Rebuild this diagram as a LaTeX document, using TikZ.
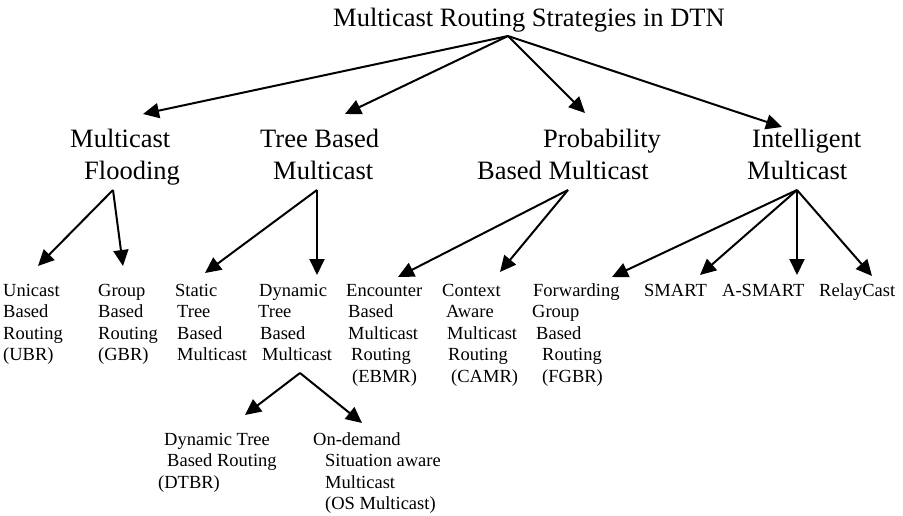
\documentclass[tikz,border=0pt]{standalone}
\usepackage{fontspec}
\setmainfont{Liberation Serif}
\usetikzlibrary{arrows.meta}
\newcommand{\ind}[1]{\hspace*{#1pt}}
\newcommand{\lns}[1]{\begin{tabular}[t]{@{}l@{}}#1\end{tabular}}
\begin{document}
\begin{tikzpicture}[x=1pt,y=-1pt,
  big/.style={anchor=base west,inner sep=0pt,font=\fontsize{26.5}{32}\selectfont},
  small/.style={anchor=base west,inner sep=0pt,font=\fontsize{18.5}{21.5}\selectfont},
  arr/.style={line width=2pt,-{Triangle[length=16pt,width=15pt]}}]
\useasboundingbox (0,0) rectangle (903,516);
% title and level 2
\node[big] (title) at (333,27) {Multicast Routing Strategies in DTN};
\node[big] (flood) at (70,148) {\lns{Multicast\\ \ind{14}Flooding}};
\node[big] (tree) at (260,148) {\lns{Tree Based\\ \ind{13}Multicast}};
\node[big] (prob) at (477,148) {\lns{\ind{66}Probability\\ Based Multicast}};
\node[big] (intel) at (747,148) {\lns{\ind{5}Intelligent\\ Multicast}};
% level 3
\node[small] (ubr) at (3,296) {\lns{Unicast\\ Based\\ Routing\\ (UBR)}};
\node[small] (gbr) at (98,296) {\lns{Group\\ Based\\ Routing\\ (GBR)}};
\node[small] (stbm) at (175,296) {\lns{Static\\ \ind{2}Tree\\ \ind{2}Based\\ \ind{2}Multicast}};
\node[small] (dtbm) at (258,296) {\lns{\ind{1}Dynamic\\ Tree\\ \ind{2}Based\\ \ind{4}Multicast}};
\node[small] (ebmr) at (346,296) {\lns{Encounter\\ \ind{2}Based\\ \ind{2}Multicast\\ \ind{5}Routing\\ \ind{6}(EBMR)}};
\node[small] (camr) at (442,296) {\lns{Context\\ \ind{4}Aware\\ \ind{5}Multicast\\ \ind{6}Routing\\ \ind{9}(CAMR)}};
\node[small] (fgbr) at (532,296) {\lns{\ind{1}Forwarding\\ Group\\ \ind{4}Based\\ \ind{10}Routing\\ \ind{10}(FGBR)}};
\node[small] (smart) at (644,296) {SMART};
\node[small] (asmart) at (722,296) {A-SMART};
\node[small] (relay) at (819,296) {RelayCast};
% level 4
\node[small] (dtbr) at (158,445) {\lns{\ind{6}Dynamic Tree\\ \ind{9}Based Routing\\ (DTBR)}};
\node[small] (osm) at (313,445) {\lns{On-demand\\ \ind{12}Situation aware\\ \ind{12}Multicast\\ \ind{12}(OS Multicast)}};
% apex and tip coordinates
\coordinate (a0) at (508,36);
\coordinate (t1) at (143,114);
\coordinate (t2) at (345,114);
\coordinate (t3) at (585,113);
\coordinate (t4) at (782,127);
\coordinate (af) at (113,190);
\coordinate (tubr) at (38,266);
\coordinate (tgbr) at (123,266);
\coordinate (at) at (317,190);
\coordinate (tst) at (205,273);
\coordinate (tdt) at (317,275);
\coordinate (ap) at (568,190);
\coordinate (teb) at (398,277);
\coordinate (tca) at (500,272);
\coordinate (ai) at (797,190);
\coordinate (tfg) at (612,277);
\coordinate (tsm) at (700,275);
\coordinate (tas) at (797,275);
\coordinate (tre) at (872,276);
\coordinate (ad) at (300,373);
\coordinate (tdb) at (245,415);
\coordinate (tos) at (362,423);
% connectors
\foreach \t in {t1,t2,t3,t4} \draw[arr] (a0) -- (\t);
\foreach \t in {tubr,tgbr} \draw[arr] (af) -- (\t);
\foreach \t in {tst,tdt} \draw[arr] (at) -- (\t);
\foreach \t in {teb,tca} \draw[arr] (ap) -- (\t);
\foreach \t in {tfg,tsm,tas,tre} \draw[arr] (ai) -- (\t);
\foreach \t in {tdb,tos} \draw[arr] (ad) -- (\t);
\end{tikzpicture}
\end{document}
